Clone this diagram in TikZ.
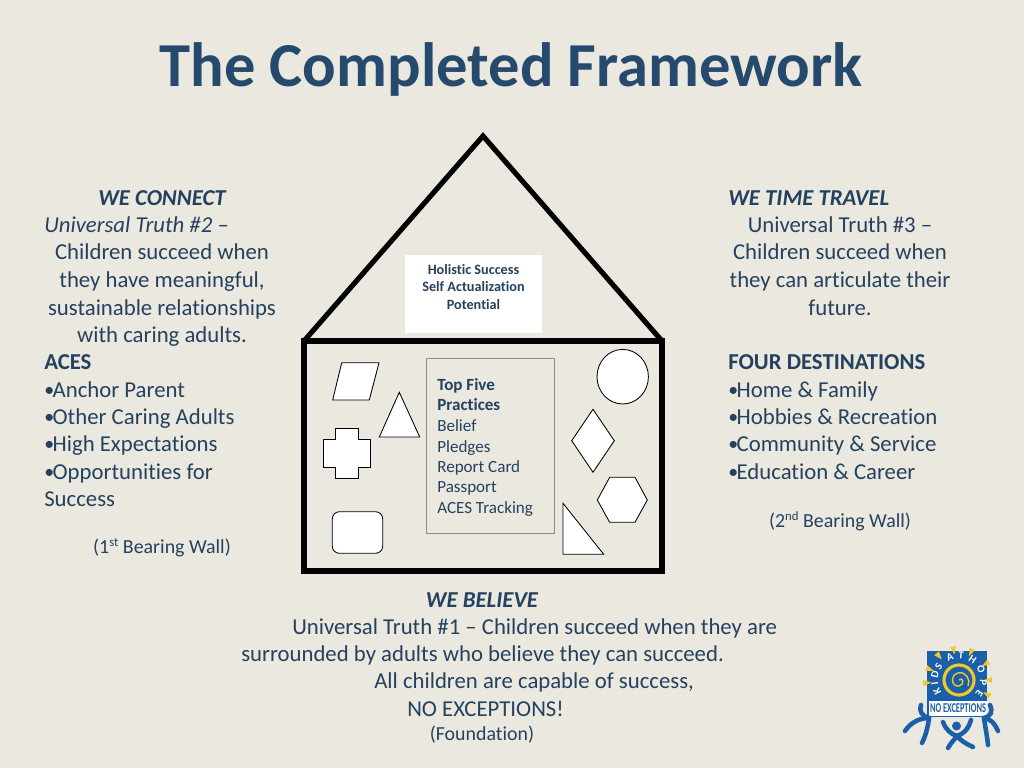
\documentclass[tikz,border=0pt]{standalone}
\usepackage{fontspec}
\setmainfont{Carlito}[Ligatures=NoCommon]
\definecolor{pagebg}{HTML}{EBE9DF}
\definecolor{titleblue}{HTML}{254A6E}
\definecolor{bodyblue}{HTML}{24415F}
\definecolor{logoblue}{HTML}{1B5FA8}
\definecolor{logoyellow}{HTML}{F2C62F}
\newcommand{\bul}{\makebox[5.9pt][l]{\fontsize{14}{14}\selectfont\raisebox{0.4pt}{•}}}
\newcommand{\supr}[1]{\raisebox{4.5pt}{\fontsize{9}{9}\selectfont #1}}
\tikzset{
  txtleft/.style={anchor=base west,inner sep=0pt,text=bodyblue,font=\fontsize{16}{19}\selectfont},
  txtmid/.style={anchor=base,inner sep=0pt,text=bodyblue,font=\fontsize{16}{19}\selectfont},
  wall/.style={line width=3.6pt,black},
  shapefill/.style={draw=black,fill=white,line width=0.6pt,line join=miter},
  person/.style={draw=logoblue,line width=3.2pt,line cap=round}
}
\begin{document}
\begin{tikzpicture}[x=0.703125pt,y=-0.703125pt]
\useasboundingbox (0,0) rectangle (1024,768);
\fill[pagebg] (0,0) rectangle (1024,768);
%%% Title
\node[anchor=base,inner sep=0pt,text=titleblue,font=\fontsize{44}{50}\selectfont\bfseries] (title) at (511,87) {The Completed Framework};

%%% House
\coordinate (apex) at (483,136);
\coordinate (eaveL) at (304,341);
\coordinate (eaveR) at (662,341);
\coordinate (baseL) at (304,571);
\coordinate (baseR) at (662,571);
\draw[wall,line join=miter] (eaveL)--(apex)--(eaveR);
\draw[wall] (eaveL)--(eaveR)--(baseR)--(baseL)--cycle;

%%% Roof box
\node[fill=white,minimum width=96.3pt,minimum height=54.8pt,inner sep=0pt] (roofbox) at (473.5,294) {};
\node[anchor=base,inner sep=0pt,text=bodyblue,font=\fontsize{10}{12}\selectfont\bfseries] (hol) at (473.5,275) {Holistic Success};
\node[anchor=base,inner sep=0pt,text=bodyblue,font=\fontsize{10}{12}\selectfont\bfseries] (self) at (473.5,292) {Self Actualization};
\node[anchor=base,inner sep=0pt,text=bodyblue,font=\fontsize{10}{12}\selectfont\bfseries] (pot) at (473.5,309) {Potential};

%%% Practices box
\draw[draw=black!45,line width=0.5pt] (426.7,358.3) rectangle (554.3,533.7);
\node[anchor=base west,inner sep=0pt,text=bodyblue,font=\fontsize{12}{14}\selectfont\bfseries] (top) at (437,390.7) {Top Five};
\node[anchor=base west,inner sep=0pt,text=bodyblue,font=\fontsize{12}{14}\selectfont\bfseries] (pra) at (437,410.7) {Practices};
\foreach \y/\t in {431/Belief,452/Pledges,472/Report Card,492.7/Passport,513/ACES Tracking}
  \node[anchor=base west,inner sep=0pt,text=bodyblue,font=\fontsize{12}{14}\selectfont] at (437,\y) {\t};

%%% Shapes in the house
\draw[shapefill] (332.7,400)--(341.7,362.7)--(379,362.7)--(369.3,400)--cycle;
\draw[shapefill] (399.3,392.3)--(379.3,437)--(419.7,437)--cycle;
\draw[shapefill] (335,428.3)--(358.7,428.3)--(358.7,439.7)--(370,439.7)--(370,467.3)--(358.7,467.3)--(358.7,478.7)--(335,478.7)--(335,467.3)--(323.3,467.3)--(323.3,439.7)--(335,439.7)--cycle;
\draw[shapefill,rounded corners=5pt] (332.3,511.7) rectangle (382.7,553.3);
\draw[shapefill] (622.7,376.7) ellipse (25.7 and 27.3);
\draw[shapefill] (593,409.3)--(614.3,440.7)--(593,472.3)--(571.7,440.7)--cycle;
\draw[shapefill] (597.3,500)--(609.7,477.3)--(635,477.3)--(647.3,500)--(635,522.3)--(609.7,522.3)--cycle;
\draw[shapefill] (563,503.3)--(563,554.3)--(603.7,554.3)--cycle;

%%% Left wall
\node[txtmid] (connect) at (162,206) {\itshape\bfseries WE CONNECT};
\node[txtleft] (truth2) at (44,233) {\itshape Universal Truth \#2 \upshape–};
\node[txtmid] at (162,260) {Children succeed when};
\node[txtmid] at (162,287.5) {they have meaningful,};
\node[txtmid] at (162,315) {sustainable relationships};
\node[txtmid] at (162,342.5) {with caring adults.};
\node[txtleft] (aces) at (44,369) {\bfseries ACES};
\foreach \y/\t in {397/Anchor Parent,424/Other Caring Adults,451.5/High Expectations,479/Opportunities for}
  \node[txtleft] at (44,\y) {\bul\t};
\node[txtleft] at (44,506) {Success};
\node[anchor=base,inner sep=0pt,text=bodyblue,font=\fontsize{14}{17}\selectfont] (wall1) at (162,553) {(1\supr{st} Bearing Wall)};

%%% Right wall
\node[txtleft] (travel) at (728,206) {\itshape\bfseries WE TIME TRAVEL};
\node[txtmid] at (840,233) {Universal Truth \#3 –};
\node[txtmid] at (840,260) {Children succeed when};
\node[txtmid] at (840,287.5) {they can articulate their};
\node[txtmid] at (840,315) {future.};
\node[txtleft] (dest) at (728,369) {\bfseries FOUR DESTINATIONS};
\foreach \y/\t in {397/Home \& Family,424/Hobbies \& Recreation,451.5/Community \& Service,479/Education \& Career}
  \node[txtleft] at (728,\y) {\bul\t};
\node[anchor=base,inner sep=0pt,text=bodyblue,font=\fontsize{14}{17}\selectfont] (wall2) at (840,527) {(2\supr{nd} Bearing Wall)};

%%% Foundation
\node[txtmid] (believe) at (482,607) {\itshape\bfseries WE BELIEVE};
\node[txtleft] at (292,634) {Universal Truth \#1 – Children succeed when they are};
\node[txtleft] at (241,661) {surrounded by adults who believe they can succeed.};
\node[txtleft] at (374,688.5) {All children are capable of success,};
\node[txtleft] at (407,716) {NO EXCEPTIONS!};
\node[anchor=base,inner sep=0pt,text=bodyblue,font=\fontsize{14}{17}\selectfont] (found) at (482,740) {(Foundation)};

%%% Logo
\fill[logoblue] (927,651) rectangle (987,717);
\foreach \a/\r in {185/36,160/35,130/35,100/34,67/34,31/35,0/33,-27/35}
  \fill[logoyellow] ({959+\r*cos(\a+5)},{680-\r*sin(\a+5)})--({959+\r*cos(\a-5)},{680-\r*sin(\a-5)})--({959+(\r-8)*cos(\a)},{680-(\r-8)*sin(\a)})--cycle;
\draw[logoyellow,line width=2.2pt] (959,680) circle (15);
\draw[logoyellow,line width=1pt] (959,680)..controls (963,676) and (965,685) ..(959,686)..controls (951,687) and (950,675) ..(958,673)..controls (966,671) and (971,680) ..(968,686);
\foreach \c/\a in {K/207,I/188,D/168,S/146,A/112,T/85,H/56,O/26,P/-6,E/-34}
  \node[inner sep=0pt,text=white,rotate=\a-90,font=\fontsize{7.5}{8}\selectfont\bfseries] at ({959+24.5*cos(\a)},{680-24.5*sin(\a)}) {\c};
\fill[white] (929,701) rectangle (987,716);
\node[inner sep=0pt,text=logoblue,xscale=0.62,font=\fontsize{9.5}{10}\selectfont\bfseries] (noexc) at (958,708.5) {NO EXCEPTIONS};
%%% Kids under the logo
\coordinate (k1) at (929,718);
\coordinate (k2) at (957,736);
\coordinate (k3) at (984,718);
\draw[person] (905,731) .. controls (911,722) and (920,718) .. (k1);
\draw[person] (k1) .. controls (928,726) and (926,735) .. (922,743);
\draw[person] (k1) .. controls (922,716) and (919,712) .. (921,705);
\draw[person] (998,731) .. controls (994,722) and (990,719) .. (k3);
\draw[person] (k3) .. controls (985,726) and (987,735) .. (988,745);
\draw[person] (k3) .. controls (991,716) and (993,712) .. (990,705);
\draw[person] (943,722) .. controls (946,730) and (951,734) .. (k2);
\draw[person] (971,720) .. controls (968,730) and (963,734) .. (k2);
\draw[person] (k2) .. controls (954,740) and (950,744) .. (948,748);
\draw[person] (k2) .. controls (960,740) and (966,744) .. (973,747);
\fill[logoblue] (956.5,726) circle (4.5);
\end{tikzpicture}
\end{document}
